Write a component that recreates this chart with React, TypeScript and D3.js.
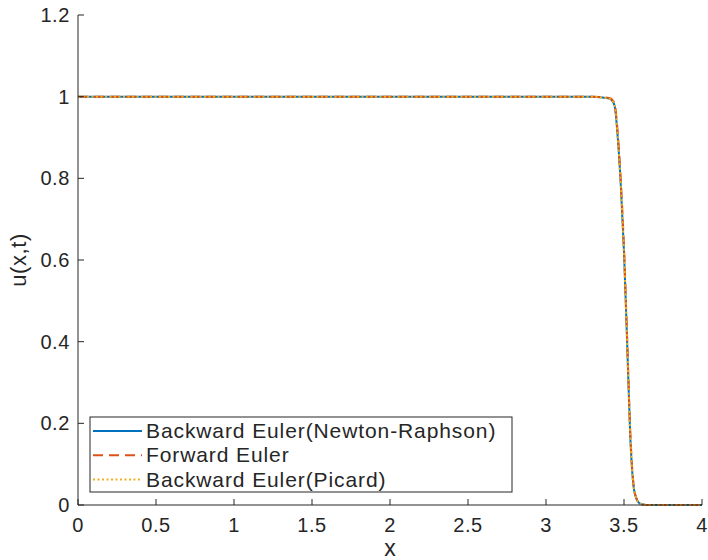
import React from "react";
import * as d3 from "d3";

const xNewton = [0, 0.5, 1, 1.5, 2, 2.5, 3, 3.3, 3.36, 3.4, 3.42, 3.44, 3.46, 3.48, 3.5, 3.52, 3.54, 3.56, 3.58, 3.6, 3.62, 3.64, 3.7, 4];
const yNewton = [1, 1, 1, 1, 1, 1, 1, 1, 0.998, 0.996, 0.992, 0.978, 0.9, 0.78, 0.62, 0.4, 0.17, 0.05, 0.015, 0.004, 0.001, 0, 0, 0];
const xForward = [0, 0.5, 1, 1.5, 2, 2.5, 3, 3.3, 3.36, 3.4, 3.42, 3.44, 3.46, 3.48, 3.5, 3.52, 3.54, 3.56, 3.58, 3.6, 3.62, 3.64, 3.7, 4];
const yForward = [1, 1, 1, 1, 1, 1, 1, 1, 0.999, 0.997, 0.994, 0.982, 0.91, 0.79, 0.63, 0.41, 0.18, 0.055, 0.016, 0.004, 0.001, 0, 0, 0];
const xPicard = [0, 0.5, 1, 1.5, 2, 2.5, 3, 3.3, 3.36, 3.4, 3.42, 3.44, 3.46, 3.48, 3.5, 3.52, 3.54, 3.56, 3.58, 3.6, 3.62, 3.64, 3.7, 4];
const yPicard = [1, 1, 1, 1, 1, 1, 1, 1, 0.998, 0.996, 0.992, 0.978, 0.9, 0.78, 0.62, 0.4, 0.17, 0.05, 0.015, 0.004, 0.001, 0, 0, 0];

const seriesNames = ["Backward Euler(Newton-Raphson)", "Forward Euler", "Backward Euler(Picard)"];
const seriesColors = ["#0072BD", "#D95319", "#EDB120"];
const seriesDash = ["none", "10,6", "2,2.5"];

const xTicks = [0, 0.5, 1, 1.5, 2, 2.5, 3, 3.5, 4];
const yTicks = [0, 0.2, 0.4, 0.6, 0.8, 1, 1.2];
const xLabel = "x";
const yLabel = "u(x,t)";

export default function App() {
  const W = 708, H = 560;
  const left = 78, right = 702, top = 15, bottom = 505;
  const x = d3.scaleLinear().domain([0, 4]).range([left, right]);
  const y = d3.scaleLinear().domain([0, 1.2]).range([bottom, top]);
  const font = "'Liberation Sans', Arial, Helvetica, sans-serif";
  const ink = "#262626";
  const line = d3.line<[number, number]>().x(d => x(d[0])).y(d => y(d[1])).curve(d3.curveMonotoneX);
  const data = [
    xNewton.map((v, i) => [v, yNewton[i]] as [number, number]),
    xForward.map((v, i) => [v, yForward[i]] as [number, number]),
    xPicard.map((v, i) => [v, yPicard[i]] as [number, number]),
  ];
  const tickLen = 6;
  const legX = 90, legY = 417, legW = 422, legH = 75;
  return (
    <svg width={W} height={H} style={{ position: "absolute", left: 0, top: 0, background: "#fff" }} fontFamily={font}>
      <rect x={0} y={0} width={W} height={H} fill="#fff" />
      {data.map((d, i) => (
        <path key={i} d={line(d) || ""} fill="none" stroke={seriesColors[i]} strokeWidth={2} strokeDasharray={seriesDash[i]} />
      ))}
      <line x1={left} x2={right} y1={bottom} y2={bottom} stroke={ink} strokeWidth={1} />
      <line x1={left} x2={left} y1={top} y2={bottom} stroke={ink} strokeWidth={1} />
      {xTicks.map(t => (
        <g key={"x" + t}>
          <line x1={x(t)} x2={x(t)} y1={bottom} y2={bottom - tickLen} stroke={ink} />
          <text x={x(t)} y={bottom + 27} textAnchor="middle" fontSize={20} letterSpacing={0.6} fill={ink}>{t}</text>
        </g>
      ))}
      {yTicks.map(t => (
        <g key={"y" + t}>
          <line x1={left} x2={left + tickLen} y1={y(t)} y2={y(t)} stroke={ink} />
          <text x={left - 8} y={y(t) + 7} textAnchor="end" fontSize={20} letterSpacing={0.6} fill={ink}>{t}</text>
        </g>
      ))}
      <text x={x(2)} y={556} textAnchor="middle" fontSize={23} fill={ink}>{xLabel}</text>
      <text transform={`translate(${26},${y(0.6)}) rotate(-90)`} textAnchor="middle" fontSize={22} letterSpacing={0.6} fill={ink}>{yLabel}</text>
      <rect x={legX} y={legY} width={legW} height={legH} fill="#fff" stroke={ink} strokeWidth={1} />
      {seriesNames.map((n, i) => {
        const cy = legY + 14 + i * 24.3;
        return (
          <g key={n}>
            <line x1={legX + 3} x2={legX + 52} y1={cy} y2={cy} stroke={seriesColors[i]} strokeWidth={2} strokeDasharray={seriesDash[i]} />
            <text x={legX + 56} y={cy + 7} fontSize={21} letterSpacing={0.9} fill={ink}>{n}</text>
          </g>
        );
      })}
    </svg>
  );
}
